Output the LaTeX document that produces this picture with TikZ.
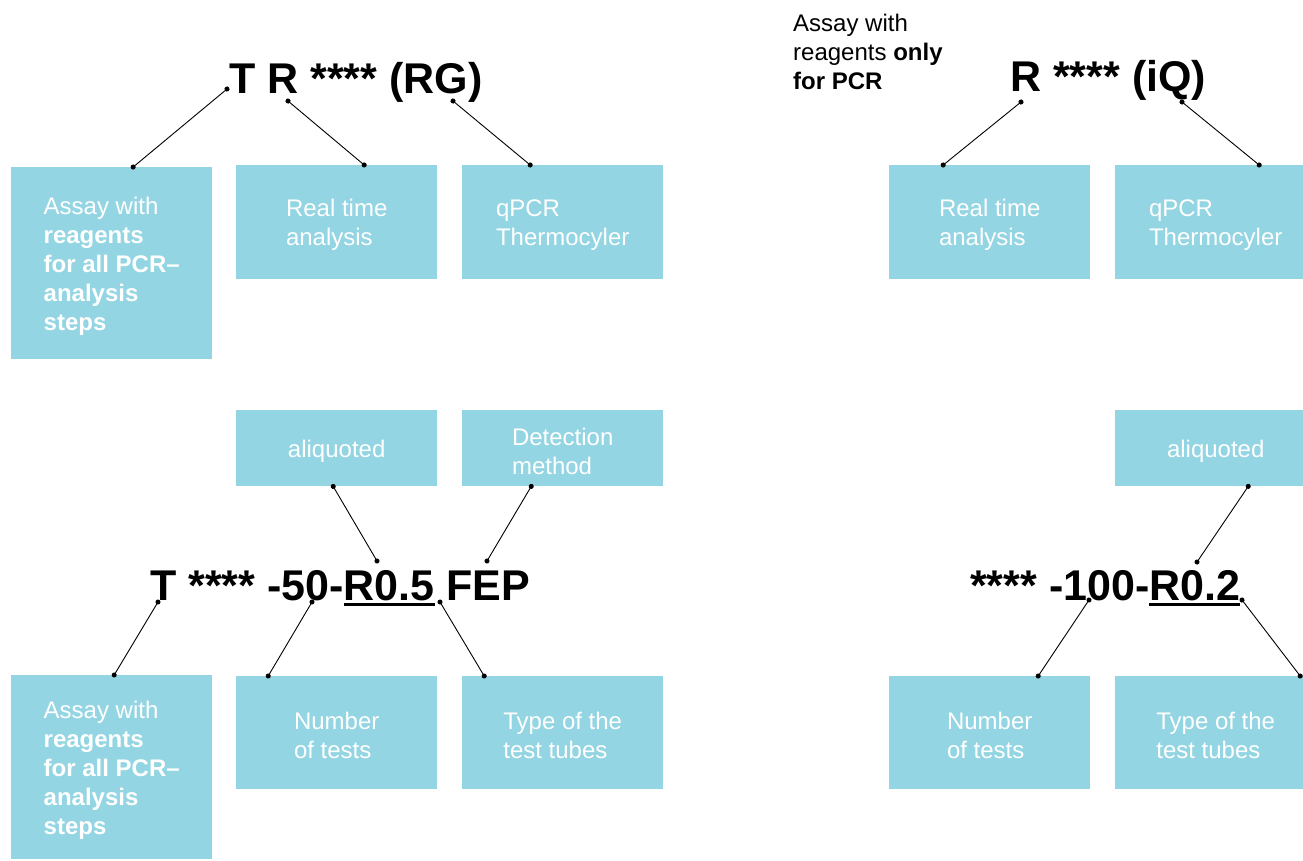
\documentclass[tikz,border=0pt]{standalone}
\usepackage{fontspec}
\setmainfont{Liberation Sans}
\usetikzlibrary{arrows.meta}
\definecolor{boxblue}{RGB}{147,213,226}
\newcommand\ulbox[1]{\setbox0\hbox{#1}\rlap{\rule[-6pt]{\wd0}{3pt}}\box0\relax}
\newcommand\fl{\rule{0pt}{23pt}}
\begin{document}
\begin{tikzpicture}[x=1pt,y=-1pt,
  box/.style={rectangle, fill=boxblue, text=white, minimum width=201pt, inner sep=0pt, align=left, font=\fontsize{24}{29}\selectfont, anchor=north west},
  title/.style={anchor=base west, inner sep=0pt, font=\fontsize{43}{50}\selectfont\bfseries},
  conn/.style={draw=black, line width=0.9pt, {Circle[length=5pt]}-{Circle[length=5pt]}, shorten <=-2.5pt, shorten >=-2.5pt}]
\useasboundingbox (0,0) rectangle (1303,860);
\clip (0,0) rectangle (1303,860);
% boxes
\node[box, minimum height=192pt] (A1) at (11,167) {\fl Assay with\\\textbf{reagents}\\\textbf{for all PCR–}\\\textbf{analysis}\\\textbf{steps}};
\node[box, minimum height=114pt] (B1) at (236,165) {\fl Real time\\analysis};
\node[box, minimum height=114pt] (C1) at (462,165) {\fl qPCR\\Thermocyler};
\node[box, minimum height=114pt] (B2) at (889,165) {\fl Real time\\analysis};
\node[box, minimum height=114pt] (C2) at (1115,165) {\fl qPCR\\Thermocyler};
\node[box, minimum height=76pt] (D1) at (236,410) {\fl aliquoted};
\node[box, minimum height=76pt] (E1) at (462,410) {\fl Detection\\method};
\node[box, minimum height=76pt] (D2) at (1115,410) {\fl aliquoted};
\node[box, minimum height=184pt] (A3) at (11,675) {\fl Assay with\\\textbf{reagents}\\\textbf{for all PCR–}\\\textbf{analysis}\\\textbf{steps}};
\node[box, minimum height=113pt] (F1) at (236,676) {\fl Number\\of tests};
\node[box, minimum height=113pt] (G1) at (462,676) {\fl Type of the\\test tubes};
\node[box, minimum height=113pt] (F2) at (889,676) {\fl Number\\of tests};
\node[box, minimum height=113pt] (G2) at (1115,676) {\fl Type of the\\test tubes};
% titles
\node[title] (T1) at (229,93) {T R **** (RG)};
\node[title] (T2) at (1010,91) {R **** (iQ)};
\node[title] (T3) at (150,600) {T **** -50-\ulbox{R0.5} FEP};
\node[title] (T4) at (970,600) {**** -100-\ulbox{R0.2}};
\node[anchor=north west, inner sep=0pt, align=left, font=\fontsize{24}{29}\selectfont] (note) at (793,14) {Assay with\\reagents \textbf{only}\\\textbf{for PCR}};
% anchor points on titles
\coordinate (pT1) at (227,89);
\coordinate (pR1) at (288,101);
\coordinate (pG1) at (453,101);
\coordinate (pR2) at (1021,102);
\coordinate (pQ2) at (1182,102);
\coordinate (pAl1) at (377,561);
\coordinate (pDe1) at (487,561);
\coordinate (pT3) at (158,602);
\coordinate (pN3) at (312,602);
\coordinate (pTy3) at (440,602);
\coordinate (pAl2) at (1197,562);
\coordinate (pN4) at (1089,600);
\coordinate (pTy4) at (1242,600);
% connectors
\draw[conn] (pT1) -- ([xshift=21.5pt]A1.north);
\draw[conn] (pR1) -- ([xshift=27.5pt]B1.north);
\draw[conn] (pG1) -- ([xshift=-32.5pt]C1.north);
\draw[conn] (pR2) -- ([xshift=-46.5pt]B2.north);
\draw[conn] (pQ2) -- ([xshift=43.5pt]C2.north);
\draw[conn] ([xshift=-3.5pt]D1.south) -- (pAl1);
\draw[conn] ([xshift=-31.5pt]E1.south) -- (pDe1);
\draw[conn] (pT3) -- ([xshift=2.5pt]A3.north);
\draw[conn] (pN3) -- ([xshift=-68.5pt]F1.north);
\draw[conn] (pTy3) -- ([xshift=-78.5pt]G1.north);
\draw[conn] ([xshift=32.5pt]D2.south) -- (pAl2);
\draw[conn] (pN4) -- ([xshift=48.5pt]F2.north);
\draw[conn] (pTy4) -- ([xshift=84.5pt]G2.north);
\end{tikzpicture}
\end{document}
